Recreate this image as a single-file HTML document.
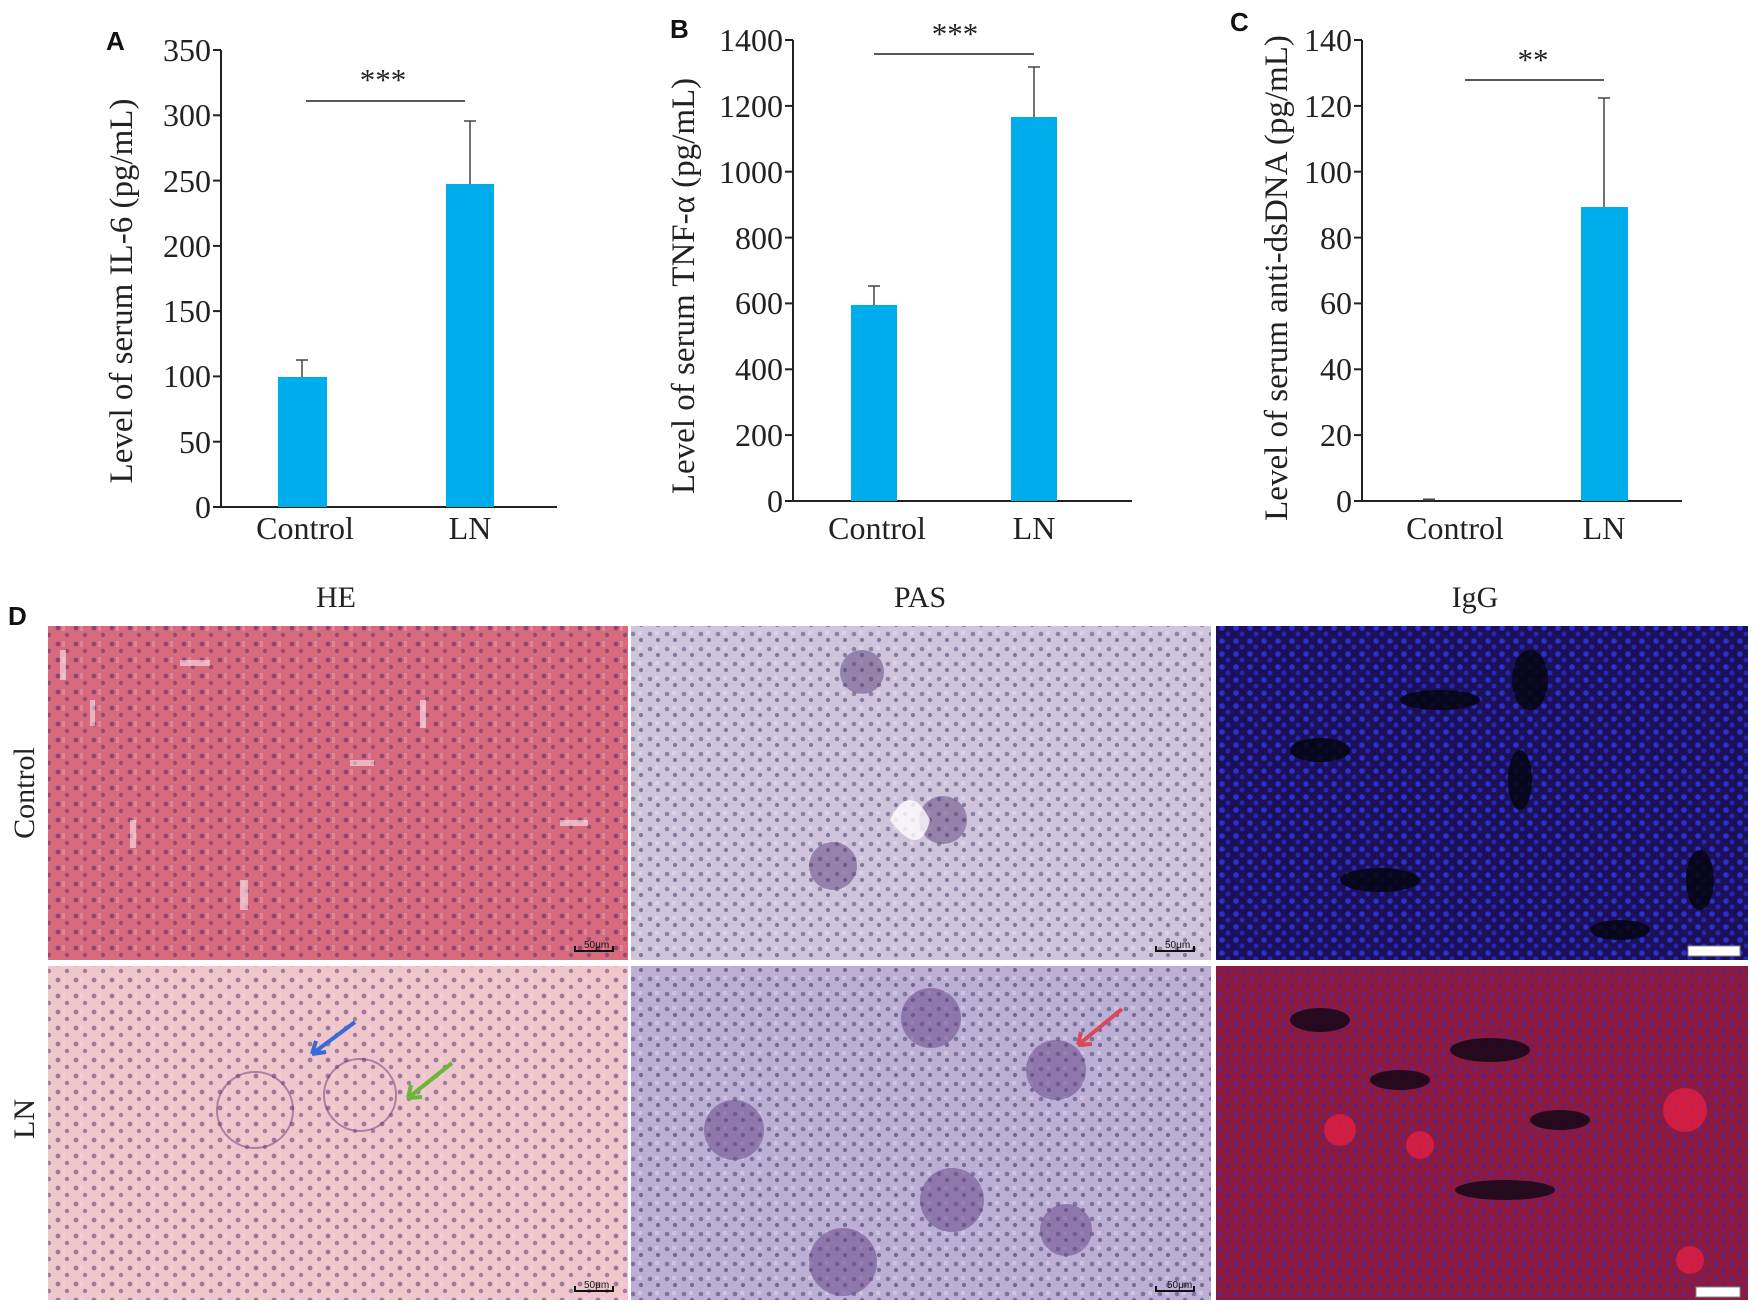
<!DOCTYPE html>
<html><head><meta charset="utf-8"><style>
html,body{margin:0;padding:0;background:#fff;width:1758px;height:1310px;overflow:hidden}
svg{display:block}
.t{font-family:"Liberation Serif",serif;fill:#222}
.L{font-family:"Liberation Sans",sans-serif;font-weight:bold;fill:#111}
</style></head><body>
<svg width="1758" height="1310" viewBox="0 0 1758 1310" xmlns="http://www.w3.org/2000/svg">
<defs>
<pattern id="nucHE" width="18" height="16" patternUnits="userSpaceOnUse"><circle cx="4" cy="4" r="2.4" fill="#4a2a6a"/><circle cx="13" cy="11" r="2.2" fill="#5a3070"/><rect x="8" y="1" width="3" height="6" fill="#fff" opacity=".35"/></pattern>
<pattern id="nucPAS" width="17" height="15" patternUnits="userSpaceOnUse"><circle cx="4" cy="4" r="2.3" fill="#4a5070"/><circle cx="12" cy="10" r="2.1" fill="#3a4068"/><rect x="9" y="1" width="4" height="4" fill="#fff" opacity=".45"/></pattern>
<pattern id="nucIgG" width="14" height="13" patternUnits="userSpaceOnUse"><circle cx="4" cy="4" r="2.8" fill="#3040ff"/><circle cx="10" cy="10" r="2.5" fill="#2a30e0"/></pattern>
<pattern id="nucIgG2" width="16" height="15" patternUnits="userSpaceOnUse"><circle cx="4" cy="4" r="2.3" fill="#3a30c0"/><circle cx="12" cy="11" r="2.1" fill="#3028b0"/></pattern>
</defs>

<!-- Panel A -->
<g class="t">
<text class="L" x="106" y="50" font-size="26">A</text>
<line x1="221" y1="50" x2="221" y2="507" stroke="#222" stroke-width="2"/>
<line x1="221" y1="507" x2="557" y2="507" stroke="#222" stroke-width="2"/>
<g stroke="#222" stroke-width="2">
<line x1="213" y1="507" x2="221" y2="507"/><line x1="213" y1="441.7" x2="221" y2="441.7"/><line x1="213" y1="376.4" x2="221" y2="376.4"/><line x1="213" y1="311.1" x2="221" y2="311.1"/><line x1="213" y1="245.9" x2="221" y2="245.9"/><line x1="213" y1="180.6" x2="221" y2="180.6"/><line x1="213" y1="115.3" x2="221" y2="115.3"/><line x1="213" y1="50" x2="221" y2="50"/>
</g>
<g font-size="32" text-anchor="end">
<text x="211" y="518">0</text><text x="211" y="453">50</text><text x="211" y="387">100</text><text x="211" y="322">150</text><text x="211" y="257">200</text><text x="211" y="192">250</text><text x="211" y="126">300</text><text x="211" y="61">350</text>
</g>
<rect x="278" y="377" width="49" height="130" fill="#00adec"/>
<rect x="446" y="184" width="48" height="323" fill="#00adec"/>
<g stroke="#444" stroke-width="1.5">
<line x1="302" y1="377" x2="302" y2="360"/><line x1="296" y1="360" x2="308" y2="360"/>
<line x1="470" y1="184" x2="470" y2="121"/><line x1="464" y1="121" x2="476" y2="121"/>
</g>
<line x1="306" y1="101" x2="465" y2="101" stroke="#222" stroke-width="1.6"/>
<text x="383" y="90" font-size="31" text-anchor="middle">***</text>
<g font-size="32" text-anchor="middle"><text x="305" y="539">Control</text><text x="470" y="539">LN</text></g>
<text transform="translate(132,291) rotate(-90)" font-size="33" text-anchor="middle">Level of serum IL-6 (pg/mL)</text>
</g>

<!-- Panel B -->
<g class="t">
<text class="L" x="670" y="38" font-size="26">B</text>
<line x1="793" y1="40" x2="793" y2="501" stroke="#222" stroke-width="2"/>
<line x1="793" y1="501" x2="1132" y2="501" stroke="#222" stroke-width="2"/>
<g stroke="#222" stroke-width="2">
<line x1="785" y1="501" x2="793" y2="501"/><line x1="785" y1="435.1" x2="793" y2="435.1"/><line x1="785" y1="369.3" x2="793" y2="369.3"/><line x1="785" y1="303.4" x2="793" y2="303.4"/><line x1="785" y1="237.6" x2="793" y2="237.6"/><line x1="785" y1="171.7" x2="793" y2="171.7"/><line x1="785" y1="105.9" x2="793" y2="105.9"/><line x1="785" y1="40" x2="793" y2="40"/>
</g>
<g font-size="32" text-anchor="end">
<text x="783" y="512">0</text><text x="783" y="446">200</text><text x="783" y="380">400</text><text x="783" y="314">600</text><text x="783" y="249">800</text><text x="783" y="183">1000</text><text x="783" y="117">1200</text><text x="783" y="51">1400</text>
</g>
<rect x="851" y="305" width="46" height="196" fill="#00adec"/>
<rect x="1011" y="117" width="46" height="384" fill="#00adec"/>
<g stroke="#444" stroke-width="1.5">
<line x1="874" y1="305" x2="874" y2="286"/><line x1="868" y1="286" x2="880" y2="286"/>
<line x1="1034" y1="117" x2="1034" y2="67"/><line x1="1028" y1="67" x2="1040" y2="67"/>
</g>
<line x1="874" y1="54" x2="1034" y2="54" stroke="#222" stroke-width="1.6"/>
<text x="955" y="44" font-size="31" text-anchor="middle">***</text>
<g font-size="32" text-anchor="middle"><text x="877" y="539">Control</text><text x="1034" y="539">LN</text></g>
<text transform="translate(694,286) rotate(-90)" font-size="33" text-anchor="middle">Level of serum TNF-α (pg/mL)</text>
</g>

<!-- Panel C -->
<g class="t">
<text class="L" x="1230" y="31" font-size="26">C</text>
<line x1="1362" y1="40" x2="1362" y2="501" stroke="#222" stroke-width="2"/>
<line x1="1362" y1="501" x2="1682" y2="501" stroke="#222" stroke-width="2"/>
<g stroke="#222" stroke-width="2">
<line x1="1354" y1="501" x2="1362" y2="501"/><line x1="1354" y1="435.1" x2="1362" y2="435.1"/><line x1="1354" y1="369.3" x2="1362" y2="369.3"/><line x1="1354" y1="303.4" x2="1362" y2="303.4"/><line x1="1354" y1="237.6" x2="1362" y2="237.6"/><line x1="1354" y1="171.7" x2="1362" y2="171.7"/><line x1="1354" y1="105.9" x2="1362" y2="105.9"/><line x1="1354" y1="40" x2="1362" y2="40"/>
</g>
<g font-size="32" text-anchor="end">
<text x="1352" y="512">0</text><text x="1352" y="446">20</text><text x="1352" y="380">40</text><text x="1352" y="314">60</text><text x="1352" y="249">80</text><text x="1352" y="183">100</text><text x="1352" y="117">120</text><text x="1352" y="51">140</text>
</g>
<line x1="1423" y1="499.5" x2="1435" y2="499.5" stroke="#444" stroke-width="2"/>
<rect x="1581" y="207" width="47" height="294" fill="#00adec"/>
<g stroke="#444" stroke-width="1.5">
<line x1="1604" y1="207" x2="1604" y2="98"/><line x1="1598" y1="98" x2="1610" y2="98"/>
</g>
<line x1="1465" y1="80" x2="1604" y2="80" stroke="#222" stroke-width="1.6"/>
<text x="1533" y="70" font-size="31" text-anchor="middle">**</text>
<g font-size="32" text-anchor="middle"><text x="1455" y="539">Control</text><text x="1604" y="539">LN</text></g>
<text transform="translate(1287,278) rotate(-90)" font-size="33" text-anchor="middle">Level of serum anti-dsDNA (pg/mL)</text>
</g>

<!-- Panel D -->
<text class="L" x="8" y="625" font-size="26">D</text>
<g class="t" font-size="30" text-anchor="middle">
<text x="336" y="607">HE</text><text x="920" y="607">PAS</text><text x="1475" y="607">IgG</text>
<text transform="translate(34,793) rotate(-90)">Control</text>
<text transform="translate(34,1119) rotate(-90)">LN</text>
</g>
<!-- HE -->
<rect x="48" y="626" width="580" height="334" fill="#d86a7e"/>
<rect x="48" y="626" width="580" height="334" fill="url(#nucHE)" opacity=".55"/>
<g fill="#fff" opacity=".5">
<rect x="60" y="650" width="6" height="30"/><rect x="90" y="700" width="5" height="26"/><rect x="180" y="660" width="30" height="6"/><rect x="240" y="880" width="8" height="30"/><rect x="420" y="700" width="6" height="28"/><rect x="560" y="820" width="28" height="6"/><rect x="130" y="820" width="6" height="28"/><rect x="350" y="760" width="24" height="6"/>
</g>
<rect x="48" y="966" width="580" height="334" fill="#eec6cc"/>
<rect x="48" y="966" width="580" height="334" fill="url(#nucHE)" opacity=".5"/>
<g fill="none" stroke="#6a3a7a" stroke-width="2" opacity=".5">
<circle cx="255" cy="1110" r="38"/><circle cx="360" cy="1095" r="36"/>
</g>
<!-- PAS -->
<rect x="631" y="626" width="580" height="334" fill="#cfc4dc"/>
<rect x="631" y="626" width="580" height="334" fill="url(#nucPAS)" opacity=".55"/>
<g fill="#5a4078" opacity=".5"><circle cx="862" cy="672" r="22"/><circle cx="833" cy="866" r="24"/><circle cx="943" cy="820" r="24"/></g>
<path d="M890 820 q20 -40 40 0 q-10 40 -40 0z" fill="#fff" opacity=".8"/>
<rect x="631" y="966" width="580" height="334" fill="#bcaed4"/>
<rect x="631" y="966" width="580" height="334" fill="url(#nucPAS)" opacity=".6"/>
<g fill="#6a4a88" opacity=".55"><circle cx="931" cy="1018" r="30"/><circle cx="1056" cy="1070" r="30"/><circle cx="734" cy="1130" r="30"/><circle cx="952" cy="1200" r="32"/><circle cx="843" cy="1262" r="34"/><circle cx="1066" cy="1230" r="26"/></g>
<!-- IgG -->
<rect x="1216" y="626" width="532" height="334" fill="#1c1058"/>
<rect x="1216" y="626" width="532" height="334" fill="url(#nucIgG)" opacity=".7"/>
<g fill="#050510" opacity=".85"><ellipse cx="1320" cy="750" rx="30" ry="12"/><ellipse cx="1440" cy="700" rx="40" ry="10"/><ellipse cx="1530" cy="680" rx="18" ry="30"/><ellipse cx="1380" cy="880" rx="40" ry="12"/><ellipse cx="1620" cy="930" rx="30" ry="10"/><ellipse cx="1700" cy="880" rx="14" ry="30"/><ellipse cx="1520" cy="780" rx="12" ry="30"/></g>
<rect x="1216" y="966" width="532" height="334" fill="#8a1a42"/>
<rect x="1216" y="966" width="532" height="334" fill="url(#nucIgG2)" opacity=".55"/>
<g fill="#050510" opacity=".75"><ellipse cx="1320" cy="1020" rx="30" ry="12"/><ellipse cx="1505" cy="1190" rx="50" ry="10"/><ellipse cx="1490" cy="1050" rx="40" ry="12"/><ellipse cx="1560" cy="1120" rx="30" ry="10"/><ellipse cx="1400" cy="1080" rx="30" ry="10"/></g>
<g fill="#ff2040" opacity=".6"><circle cx="1685" cy="1110" r="22"/><circle cx="1420" cy="1145" r="14"/><circle cx="1690" cy="1260" r="14"/><circle cx="1340" cy="1130" r="16"/></g>
<!-- arrows -->
<g stroke-width="4" fill="none">
<path d="M355 1022 L312 1054 M312 1054 l14 -2 M312 1054 l4 -13" stroke="#3a6ad8"/>
<path d="M452 1063 L408 1098 M408 1098 l14 -1 M408 1098 l3 -13" stroke="#6ab83a"/>
<path d="M1122 1009 L1078 1045 M1078 1045 l14 -1 M1078 1045 l3 -13" stroke="#d84a5a"/>
</g>
<!-- scale bars -->
<g font-family="Liberation Sans,sans-serif" font-size="10" fill="#111">
<text x="584" y="948">50μm</text><text x="584" y="1288">50μm</text>
<text x="1165" y="948">50μm</text><text x="1167" y="1288">50μm</text>
</g>
<g stroke="#111" stroke-width="2" fill="none">
<path d="M575 946 v5 h38 v-5"/><path d="M575 1286 v5 h38 v-5"/><path d="M1156 946 v5 h38 v-5"/><path d="M1156 1286 v5 h38 v-5"/>
</g>
<rect x="1688" y="946" width="52" height="10" fill="#fff" stroke="#888"/>
<rect x="1696" y="1287" width="44" height="10" fill="#fff" stroke="#888"/>
</svg>
</body></html>
